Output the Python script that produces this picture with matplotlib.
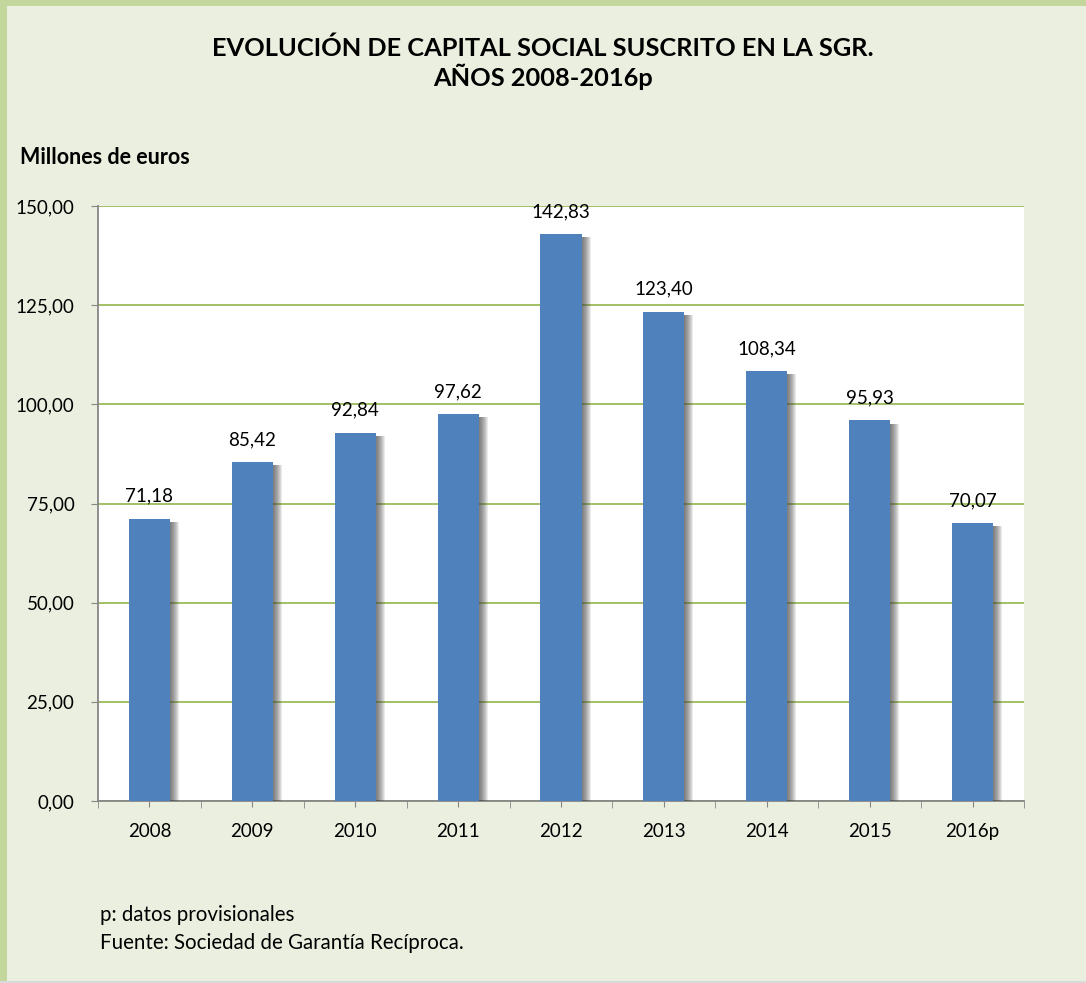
import matplotlib
matplotlib.use("Agg")
import matplotlib.pyplot as plt
import matplotlib.patheffects as pe
from matplotlib.patches import Rectangle
import numpy as np

years = ["2008", "2009", "2010", "2011", "2012", "2013", "2014", "2015", "2016p"]
values = [71.18, 85.42, 92.84, 97.62, 142.83, 123.40, 108.34, 95.93, 70.07]
yticks = [0, 25, 50, 75, 100, 125, 150]

FONT = ["Lato", "DejaVu Sans"]
plt.rcParams["font.family"] = FONT

W, H = 1086, 983
fig = plt.figure(figsize=(W / 100, H / 100), dpi=100)
fig.patch.set_facecolor("#EBEFDF")

# green border strips (top and left)
fig.add_artist(Rectangle((0, 1 - 6 / H), 1, 6 / H, transform=fig.transFigure,
                         facecolor="#C3D69B", edgecolor="none"))
fig.add_artist(Rectangle((0, 0), 7 / W, 1, transform=fig.transFigure,
                         facecolor="#C3D69B", edgecolor="none"))
fig.add_artist(Rectangle((0, 0), 1, 2 / H, transform=fig.transFigure,
                         facecolor="#D9D9D9", edgecolor="none"))

ax = fig.add_axes([98 / W, 1 - 801 / H, (1024 - 98) / W, (801 - 206) / H])
ax.set_facecolor("white")

x = np.arange(len(years))
# soft shadow: several offset layers (pixels -> points: *0.72)
shadow_fx = []
for k in range(9, 0, -1):
    shadow_fx.append(pe.SimplePatchShadow(offset=(k * 0.72, -2.2), shadow_rgbFace="#404040",
                                          alpha=0.11))
shadow_fx.append(pe.Normal())
bars = ax.bar(x, values, width=0.4, color="#4F81BD", zorder=3, path_effects=shadow_fx)

for xi, v in zip(x, values):
    ax.annotate(f"{v:.2f}".replace(".", ","), (xi, v), xytext=(0, 10),
                textcoords="offset points", ha="center", va="bottom",
                fontsize=13.5, color="black")

ax.set_xlim(-0.5, len(years) - 0.5)
ax.set_ylim(0, 150)
ax.set_yticks(yticks)
ax.set_yticklabels([f"{t:.2f}".replace(".", ",") for t in yticks], fontsize=13.5)
ax.yaxis.grid(True, color="#9BBB59", linewidth=1.3, zorder=1)
ax.set_axisbelow(True)

ax.set_xticks(x)
ax.set_xticklabels(years, fontsize=13.5)
ax.set_xticks(np.arange(-0.5, len(years)), minor=True)
ax.tick_params(axis="x", which="major", length=4, color="#868686", pad=12)
ax.tick_params(axis="x", which="minor", length=5, color="#868686")
ax.tick_params(axis="y", length=5, color="#868686", pad=12)

for s in ["top", "right"]:
    ax.spines[s].set_visible(False)
for s in ["left", "bottom"]:
    ax.spines[s].set_color("#868686")
    ax.spines[s].set_linewidth(1.3)

fig.text(543 / W, 1 - 48 / H, "EVOLUCIÓN DE CAPITAL SOCIAL SUSCRITO EN LA SGR.",
         ha="center", va="center", fontsize=18.3, fontweight="bold")
fig.text(543 / W, 1 - 77 / H, "AÑOS 2008-2016p",
         ha="center", va="center", fontsize=18.3, fontweight="bold")
fig.text(20 / W, 1 - 158 / H, "Millones de euros", ha="left", va="center",
         fontsize=15.5, fontweight="bold")
fig.text(100 / W, 1 - 915 / H, "p: datos provisionales", ha="left", va="center",
         fontsize=14.8)
fig.text(100 / W, 1 - 943 / H, "Fuente: Sociedad de Garantía Recíproca.", ha="left",
         va="center", fontsize=14.8)

fig.savefig("out.png", dpi=100, facecolor=fig.get_facecolor())
